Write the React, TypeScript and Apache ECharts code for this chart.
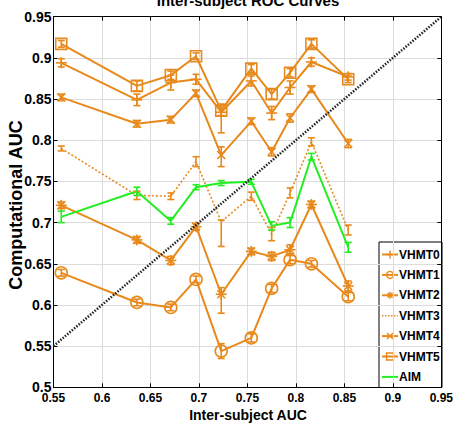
import React, { useEffect, useRef } from "react";
import * as echarts from "echarts";

const ORANGE = "#e8891c";
const GREEN = "#22ee22";
const FONT = '"Liberation Sans", Arial, Helvetica, sans-serif';

// Inter-subject AUC (x positions shared by all series)
const xValues = [0.558, 0.636, 0.671, 0.697, 0.723, 0.754, 0.775, 0.794, 0.816, 0.854];

// Computational AUC per series
const vhmt0 = [0.894, 0.849, 0.87, 0.874, 0.834, 0.872, 0.833, 0.864, 0.895, 0.877];
const vhmt1 = [0.639, 0.603, 0.597, 0.631, 0.544, 0.56, 0.62, 0.655, 0.65, 0.61];
const vhmt2 = [0.721, 0.679, 0.654, 0.695, 0.613, 0.665, 0.659, 0.667, 0.722, 0.623];
const vhmt3 = [0.79, 0.733, 0.732, 0.774, 0.701, 0.732, 0.686, 0.736, 0.798, 0.691];
const vhmt4 = [0.852, 0.82, 0.825, 0.857, 0.782, 0.823, 0.786, 0.827, 0.862, 0.796];
const vhmt5 = [0.917, 0.866, 0.879, 0.902, 0.836, 0.887, 0.856, 0.882, 0.917, 0.874];
const aim = [0.707, 0.738, 0.702, 0.743, 0.748, 0.7495, 0.696, 0.7, 0.78, 0.67];

// error bars: [below, above]
const vhmt0Err = [[0.005, 0.005], [0.007, 0.007], [0.009, 0.009], [0.006, 0.006], [0.025, 0.01], [0.006, 0.006], [0.008, 0.008], [0.008, 0.008], [0.005, 0.005], [0.004, 0.004]];
const vhmt1Err = [[0.004, 0.004], [0.004, 0.004], [0.004, 0.004], [0.004, 0.004], [0.009, 0.009], [0.005, 0.005], [0.005, 0.005], [0.005, 0.005], [0.004, 0.004], [0.005, 0.005]];
const vhmt2Err = [[0.004, 0.004], [0.004, 0.004], [0.005, 0.005], [0.004, 0.004], [0.023, 0.008], [0.004, 0.004], [0.005, 0.005], [0.006, 0.006], [0.004, 0.004], [0.006, 0.006]];
const vhmt3Err = [[0.003, 0.003], [0.005, 0.005], [0.004, 0.004], [0.006, 0.006], [0.03, 0.002], [0.005, 0.005], [0.008, 0.008], [0.006, 0.006], [0.005, 0.005], [0.006, 0.006]];
const vhmt4Err = [[0.004, 0.004], [0.004, 0.004], [0.004, 0.004], [0.004, 0.004], [0.014, 0.01], [0.004, 0.004], [0.005, 0.005], [0.005, 0.005], [0.004, 0.004], [0.005, 0.005]];
const vhmt5Err = [[0.004, 0.004], [0.006, 0.006], [0.005, 0.005], [0.004, 0.004], [0.006, 0.006], [0.005, 0.005], [0.006, 0.006], [0.005, 0.005], [0.005, 0.005], [0.004, 0.004]];
const aimErr = [[0.007, 0.007], [0.005, 0.005], [0.004, 0.004], [0.003, 0.003], [0.003, 0.003], [0.003, 0.003], [0.005, 0.005], [0.006, 0.006], [0.004, 0.004], [0.006, 0.006]];

const diagonal = [[0.55, 0.55], [0.95, 0.95]];

const seriesDefs = [
  { name: "VHMT0", values: vhmt0, err: vhmt0Err, marker: "plus", color: ORANGE, dotted: false },
  { name: "VHMT1", values: vhmt1, err: vhmt1Err, marker: "circle", color: ORANGE, dotted: false },
  { name: "VHMT2", values: vhmt2, err: vhmt2Err, marker: "star", color: ORANGE, dotted: false },
  { name: "VHMT3", values: vhmt3, err: vhmt3Err, marker: "none", color: ORANGE, dotted: true },
  { name: "VHMT4", values: vhmt4, err: vhmt4Err, marker: "x", color: ORANGE, dotted: false },
  { name: "VHMT5", values: vhmt5, err: vhmt5Err, marker: "square", color: ORANGE, dotted: false },
  { name: "AIM", values: aim, err: aimErr, marker: "none", color: GREEN, dotted: false },
];

const markerSize: Record<string, number> = { plus: 5.5, circle: 6, star: 5.5, x: 4, square: 5.5 };
const legendMarkerSize: Record<string, number> = { plus: 4, circle: 3.5, star: 3.5, x: 3, square: 3.5 };

function markerEls(kind: string, cx: number, cy: number, s: number, color: string, lw: number): any[] {
  const st = { stroke: color, lineWidth: lw, fill: "none" };
  const L = (x1: number, y1: number, x2: number, y2: number) => ({ type: "line", shape: { x1, y1, x2, y2 }, style: st });
  switch (kind) {
    case "plus":
      return [L(cx - s, cy, cx + s, cy), L(cx, cy - s, cx, cy + s)];
    case "x":
      return [L(cx - s, cy - s, cx + s, cy + s), L(cx - s, cy + s, cx + s, cy - s)];
    case "star": {
      const d = s * 0.72;
      return [L(cx - s, cy, cx + s, cy), L(cx, cy - s, cx, cy + s), L(cx - d, cy - d, cx + d, cy + d), L(cx - d, cy + d, cx + d, cy - d)];
    }
    case "circle":
      return [{ type: "circle", shape: { cx, cy, r: s }, style: st }];
    case "square":
      return [{ type: "rect", shape: { x: cx - s, y: cy - s, width: 2 * s, height: 2 * s }, style: st }];
    default:
      return [];
  }
}

export default function App() {
  const ref = useRef<HTMLDivElement>(null);

  useEffect(() => {
    if (!ref.current) return;
    const chart = echarts.init(ref.current, undefined, { renderer: "svg" });

    const series: any[] = [];
    seriesDefs.forEach((d) => {
      series.push({
        type: "line",
        name: d.name,
        data: xValues.map((x, i) => [x, d.values[i]]),
        showSymbol: false,
        symbol: "none",
        lineStyle: { color: d.color, width: d.dotted ? 1.6 : 2, type: d.dotted ? [2, 2] : "solid" },
        z: 2,
        silent: true,
      });
      series.push({
        type: "custom",
        name: d.name + " err",
        data: xValues.map((x, i) => [x, d.values[i], d.err[i][0], d.err[i][1]]),
        encode: { x: 0, y: 1 },
        z: 3,
        silent: true,
        renderItem: (params: any, api: any) => {
          const x = api.value(0);
          const y = api.value(1);
          const lo = api.value(2);
          const hi = api.value(3);
          const p = api.coord([x, y]);
          const a = api.coord([x, y + hi]);
          const b = api.coord([x, y - lo]);
          const cw = 3.5;
          const st = { stroke: d.color, lineWidth: 1.6, fill: "none" };
          const children: any[] = [
            { type: "line", shape: { x1: a[0], y1: a[1], x2: b[0], y2: b[1] }, style: st },
            { type: "line", shape: { x1: a[0] - cw, y1: a[1], x2: a[0] + cw, y2: a[1] }, style: st },
            { type: "line", shape: { x1: b[0] - cw, y1: b[1], x2: b[0] + cw, y2: b[1] }, style: st },
            ...markerEls(d.marker, p[0], p[1], markerSize[d.marker] || 0, d.color, 1.6),
          ];
          return { type: "group", children };
        },
      });
    });

    series.push({
      type: "line",
      name: "diagonal",
      data: diagonal,
      showSymbol: false,
      symbol: "none",
      lineStyle: { color: "#222", width: 2.5, type: [1.5, 1.5] },
      z: 4,
      silent: true,
    });

    // legend drawn as graphic
    const lgLeft = 379;
    const lgTop = 242;
    const lgRight = 442;
    const lgBottom = 387.5;
    const rowY0 = 254.5;
    const rowStep = 20.4;
    const legendChildren: any[] = [
      { type: "rect", shape: { x: lgLeft, y: lgTop, width: lgRight - lgLeft, height: lgBottom - lgTop }, style: { fill: "#fff", stroke: "#000", lineWidth: 1 } },
    ];
    seriesDefs.forEach((d, i) => {
      const cy = rowY0 + i * rowStep;
      legendChildren.push({
        type: "line",
        shape: { x1: 382, y1: cy, x2: 398, y2: cy },
        style: { stroke: d.color, lineWidth: d.dotted ? 1.4 : 2, lineDash: d.dotted ? [1.5, 1.5] : null },
      });
      markerEls(d.marker, 390, cy, legendMarkerSize[d.marker] || 0, d.color, 1.4).forEach((m) => legendChildren.push(m));
      legendChildren.push({
        type: "text",
        x: 399,
        y: cy,
        style: { text: d.name, font: `bold 12px ${FONT}`, fill: "#000", align: "left", verticalAlign: "middle" },
      });
    });

    const option: any = {
      animation: false,
      backgroundColor: "#fff",
      grid: { left: 53.5, right: 13.7, top: 16.7, bottom: 41.7, containLabel: false },
      xAxis: [
        {
          type: "value",
          min: 0.55,
          max: 0.95,
          interval: 0.05,
          axisLine: { show: true, lineStyle: { color: "#000", width: 1 } },
          axisTick: { show: true, inside: true, length: 4, lineStyle: { color: "#000" } },
          axisLabel: { color: "#000", fontFamily: FONT, fontWeight: "bold", fontSize: 12, margin: 5 },
          splitLine: { show: true, lineStyle: { color: "#dcdcdc", width: 1 } },
        },
        {
          type: "value",
          position: "top",
          min: 0.55,
          max: 0.95,
          interval: 0.05,
          axisLine: { show: true, onZero: false, lineStyle: { color: "#000", width: 1 } },
          axisTick: { show: true, inside: true, length: 4, lineStyle: { color: "#000" } },
          axisLabel: { show: false },
          splitLine: { show: false },
        },
      ],
      yAxis: [
        {
          type: "value",
          min: 0.5,
          max: 0.95,
          interval: 0.05,
          axisLine: { show: true, lineStyle: { color: "#000", width: 1 } },
          axisTick: { show: true, inside: true, length: 4, lineStyle: { color: "#000" } },
          axisLabel: { color: "#000", fontFamily: FONT, fontWeight: "bold", fontSize: 14, margin: 2 },
          splitLine: { show: true, lineStyle: { color: "#dcdcdc", width: 1 } },
        },
        {
          type: "value",
          position: "right",
          min: 0.5,
          max: 0.95,
          interval: 0.05,
          axisLine: { show: true, onZero: false, lineStyle: { color: "#000", width: 1 } },
          axisTick: { show: true, inside: true, length: 4, lineStyle: { color: "#000" } },
          axisLabel: { show: false },
          splitLine: { show: false },
        },
      ],
      series,
      graphic: [
        {
          type: "text",
          x: 248,
          y: 8,
          style: { text: "Inter-subject ROC Curves", font: `bold 15px ${FONT}`, fill: "#000", align: "center", verticalAlign: "bottom" },
        },
        {
          type: "text",
          x: 248,
          y: 414.5,
          style: { text: "Inter-subject AUC", font: `bold 14px ${FONT}`, fill: "#000", align: "center", verticalAlign: "middle" },
        },
        {
          type: "text",
          x: 16,
          y: 205,
          rotation: Math.PI / 2,
          style: { text: "Computational AUC", font: `bold 18px ${FONT}`, fill: "#000", align: "center", verticalAlign: "middle" },
        },
        { type: "group", z: 100, children: legendChildren },
      ],
    };

    chart.setOption(option);
    return () => chart.dispose();
  }, []);

  return <div ref={ref} style={{ position: "fixed", left: 0, top: 0, width: 456, height: 429 }} />;
}
